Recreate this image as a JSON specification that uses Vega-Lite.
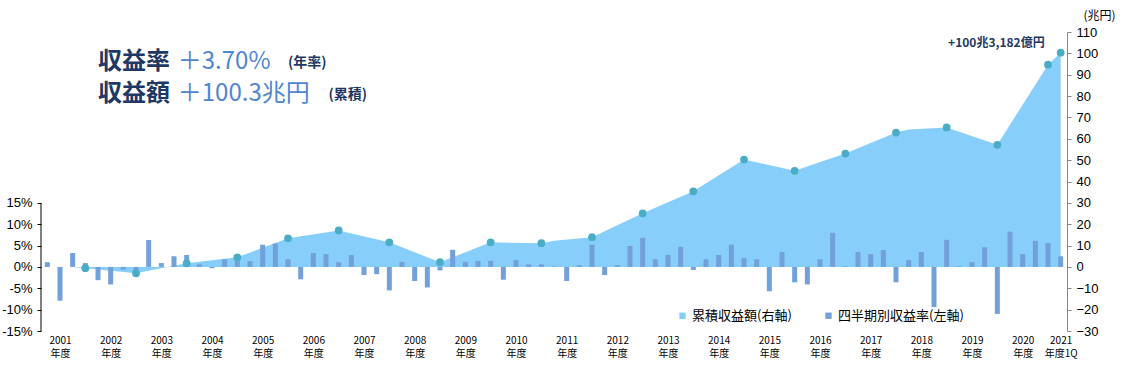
{
  "$schema": "https://vega.github.io/schema/vega-lite/v6.json",
  "width": 1026,
  "height": 299,
  "autosize": {"type": "none"},
  "padding": {"left": 41, "top": 32, "right": 61, "bottom": 44},
  "background": "white",
  "config": {
    "view": {"stroke": null},
    "font": "Noto Sans CJK JP",
    "axis": {"grid": false, "labelColor": "#000", "tickColor": "#000", "domainColor": "#000"}
  },
  "datasets": {
    "quarterly": [
      {"i": 0, "r": 1.1}, {"i": 1, "r": -7.9}, {"i": 2, "r": 3.25}, {"i": 3, "r": 0.9},
      {"i": 4, "r": -3.1}, {"i": 5, "r": -4.1}, {"i": 6, "r": -0.6}, {"i": 7, "r": -1.0},
      {"i": 8, "r": 6.3}, {"i": 9, "r": 0.9}, {"i": 10, "r": 2.5}, {"i": 11, "r": 2.8},
      {"i": 12, "r": 0.6}, {"i": 13, "r": -0.3}, {"i": 14, "r": 1.8}, {"i": 15, "r": 2.0},
      {"i": 16, "r": 1.35}, {"i": 17, "r": 5.2}, {"i": 18, "r": 5.5}, {"i": 19, "r": 1.8},
      {"i": 20, "r": -2.9}, {"i": 21, "r": 3.25}, {"i": 22, "r": 3.0}, {"i": 23, "r": 1.1},
      {"i": 24, "r": 2.8}, {"i": 25, "r": -1.9}, {"i": 26, "r": -1.7}, {"i": 27, "r": -5.5},
      {"i": 28, "r": 1.2}, {"i": 29, "r": -3.3}, {"i": 30, "r": -4.8}, {"i": 31, "r": -0.8},
      {"i": 32, "r": 4.0}, {"i": 33, "r": 1.2}, {"i": 34, "r": 1.4}, {"i": 35, "r": 1.4},
      {"i": 36, "r": -3.0}, {"i": 37, "r": 1.6}, {"i": 38, "r": 0.6}, {"i": 39, "r": 0.6},
      {"i": 40, "r": 0.15}, {"i": 41, "r": -3.3}, {"i": 42, "r": 0.4}, {"i": 43, "r": 5.2},
      {"i": 44, "r": -1.9}, {"i": 45, "r": 0.4}, {"i": 46, "r": 4.9}, {"i": 47, "r": 6.8},
      {"i": 48, "r": 1.8}, {"i": 49, "r": 2.8}, {"i": 50, "r": 4.7}, {"i": 51, "r": -0.7},
      {"i": 52, "r": 1.8}, {"i": 53, "r": 2.8}, {"i": 54, "r": 5.2}, {"i": 55, "r": 2.1},
      {"i": 56, "r": 1.8}, {"i": 57, "r": -5.7}, {"i": 58, "r": 3.5}, {"i": 59, "r": -3.6},
      {"i": 60, "r": -4.1}, {"i": 61, "r": 1.8}, {"i": 62, "r": 8.0}, {"i": 63, "r": 0.15},
      {"i": 64, "r": 3.5}, {"i": 65, "r": 3.0}, {"i": 66, "r": 3.95}, {"i": 67, "r": -3.6},
      {"i": 68, "r": 1.6}, {"i": 69, "r": 3.5}, {"i": 70, "r": -9.4}, {"i": 71, "r": 6.35},
      {"i": 72, "r": 0.15}, {"i": 73, "r": 1.1}, {"i": 74, "r": 4.6}, {"i": 75, "r": -11.0},
      {"i": 76, "r": 8.25}, {"i": 77, "r": 3.0}, {"i": 78, "r": 6.1}, {"i": 79, "r": 5.6},
      {"i": 80, "r": 2.5}
    ],
    "cumulative": [
      {"i": 2, "v": 0, "annual": false},
      {"i": 3, "v": -0.6, "annual": true},
      {"i": 7, "v": -3.0, "annual": true},
      {"i": 11, "v": 1.7, "annual": true},
      {"i": 15, "v": 4.5, "annual": true},
      {"i": 19, "v": 13.4, "annual": true},
      {"i": 23, "v": 17.1, "annual": true},
      {"i": 27, "v": 11.5, "annual": true},
      {"i": 31, "v": 2.2, "annual": true},
      {"i": 35, "v": 11.5, "annual": true},
      {"i": 39, "v": 11.1, "annual": true},
      {"i": 40, "v": 12.2, "annual": false},
      {"i": 43, "v": 13.9, "annual": true},
      {"i": 47, "v": 25.1, "annual": true},
      {"i": 51, "v": 35.4, "annual": true},
      {"i": 55, "v": 50.3, "annual": true},
      {"i": 59, "v": 45.0, "annual": true},
      {"i": 63, "v": 53.1, "annual": true},
      {"i": 67, "v": 62.9, "annual": true},
      {"i": 68, "v": 64.3, "annual": false},
      {"i": 71, "v": 65.3, "annual": true},
      {"i": 75, "v": 57.2, "annual": true},
      {"i": 79, "v": 94.7, "annual": true},
      {"i": 80, "v": 100.3, "annual": true}
    ]
  },
  "resolve": {"scale": {"x": "independent", "y": "independent"}},
  "layer": [
    {
      "data": {"name": "cumulative"},
      "mark": {"type": "area", "interpolate": "linear"},
      "encoding": {
        "x": {
          "field": "i", "type": "quantitative",
          "scale": {"domain": [-0.5, 80.5], "nice": false, "zero": false, "padding": 0},
          "axis": {
            "title": null, "domain": false, "ticks": false, "grid": false,
            "values": [1, 5, 9, 13, 17, 21, 25, 29, 33, 37, 41, 45, 49, 53, 57, 61, 65, 69, 73, 77, 80],
            "labelExpr": "datum.value == 80 ? ['2021', '年度1Q'] : [toString(2001 + floor(datum.value / 4)), '年度']",
            "labelFont": "Noto Sans CJK JP", "labelFontSize": 10, "labelLineHeight": 13.5,
            "labelPadding": 4, "labelBaseline": "top", "labelFlush": false, "labelOverlap": false, "labelBound": false,
            "labelColor": "#000"
          }
        },
        "y": {
          "field": "v", "type": "quantitative",
          "scale": {"domain": [-30, 110], "nice": false, "zero": false},
          "axis": {
            "orient": "right", "title": "(兆円)",
            "values": [-30, -20, -10, 0, 10, 20, 30, 40, 50, 60, 70, 80, 90, 100, 110],
            "domainColor": "#888888", "tickColor": "#888888", "tickSize": 4,
            "labelFont": "Liberation Sans Narrow, Liberation Sans, sans-serif", "labelFontSize": 13, "labelPadding": 5,
            "titleAngle": 0, "titleX": 32, "titleY": -17, "titleAlign": "center", "titleBaseline": "middle",
            "titleFont": "Noto Sans CJK JP", "titleFontSize": 12, "titleFontWeight": "normal", "titleColor": "#000"
          }
        },
        "color": {
          "datum": "累積収益額(右軸)",
          "scale": {"domain": ["累積収益額(右軸)", "四半期別収益率(左軸)"], "range": ["#87CEFA", "#72A0DA"]},
          "legend": {
            "title": null, "orient": "none", "legendX": 635, "legendY": 277, "direction": "horizontal",
            "symbolType": "square", "symbolSize": 40, "symbolStrokeWidth": 0,
            "labelFont": "Noto Sans CJK JP", "labelFontSize": 13, "labelColor": "#000",
            "labelOffset": 3, "columnPadding": 30
          }
        }
      }
    },
    {
      "data": {"name": "quarterly"},
      "mark": {"type": "bar", "width": 5},
      "encoding": {
        "x": {"field": "i", "type": "quantitative", "scale": {"domain": [-0.5, 80.5], "nice": false, "zero": false, "padding": 0}, "axis": null},
        "y": {
          "field": "r", "type": "quantitative",
          "scale": {"domain": [-15, 55], "nice": false},
          "axis": {
            "orient": "left", "title": null, "domain": false,
            "values": [-15, -10, -5, 0, 5, 10, 15],
            "labelExpr": "datum.value + '%'",
            "tickSize": 4, "tickColor": "#000",
            "labelFont": "Liberation Sans Narrow, Liberation Sans, sans-serif", "labelFontSize": 13, "labelPadding": 5
          }
        },
        "color": {
          "datum": "四半期別収益率(左軸)",
          "scale": {"domain": ["累積収益額(右軸)", "四半期別収益率(左軸)"], "range": ["#87CEFA", "#72A0DA"]},
          "legend": {
            "title": null, "orient": "none", "legendX": 635, "legendY": 277, "direction": "horizontal",
            "symbolType": "square", "symbolSize": 40, "symbolStrokeWidth": 0,
            "labelFont": "Noto Sans CJK JP", "labelFontSize": 13, "labelColor": "#000",
            "labelOffset": 3, "columnPadding": 30
          }
        }
      }
    },
    {
      "data": {"values": [{}]},
      "mark": {"type": "rule", "color": "#000", "strokeWidth": 1},
      "encoding": {
        "x": {"datum": -0.5, "type": "quantitative", "scale": {"domain": [-0.5, 80.5], "nice": false, "zero": false, "padding": 0}, "axis": null},
        "y": {"datum": -15, "type": "quantitative", "scale": {"domain": [-15, 55], "nice": false}, "axis": null},
        "y2": {"datum": 15}
      }
    },
    {
      "layer": [
        {
          "data": {"name": "cumulative"},
          "transform": [{"filter": "datum.annual"}],
          "mark": {"type": "circle", "color": "#4BACC6", "opacity": 1, "size": 60},
          "encoding": {
            "x": {"field": "i", "type": "quantitative", "scale": {"domain": [-0.5, 80.5], "nice": false, "zero": false, "padding": 0}, "axis": null},
            "y": {"field": "v", "type": "quantitative", "scale": {"domain": [-30, 110], "nice": false, "zero": false}, "axis": null}
          }
        },
        {
          "data": {"name": "cumulative"},
          "transform": [{"filter": "datum.i == 80"}],
          "mark": {"type": "text", "align": "right", "baseline": "middle", "dx": -16, "dy": -10, "font": "Noto Sans CJK JP", "fontSize": 12, "fontWeight": "bold", "color": "#1F3864", "text": "+100兆3,182億円"},
          "encoding": {
            "x": {"field": "i", "type": "quantitative", "scale": {"domain": [-0.5, 80.5], "nice": false, "zero": false, "padding": 0}, "axis": null},
            "y": {"field": "v", "type": "quantitative", "scale": {"domain": [-30, 110], "nice": false, "zero": false}, "axis": null}
          }
        },
        {
          "data": {"values": [{}]},
          "mark": {"type": "text", "align": "left", "baseline": "middle", "font": "Noto Sans CJK JP", "fontSize": 24, "fontWeight": "bold", "color": "#1F3864", "text": "収益率"},
          "encoding": {
            "x": {"datum": 4.0, "type": "quantitative", "scale": {"domain": [-0.5, 80.5], "nice": false, "zero": false, "padding": 0}, "axis": null},
            "y": {"datum": 95.9, "type": "quantitative", "scale": {"domain": [-30, 110], "nice": false, "zero": false}, "axis": null}
          }
        },
        {
          "data": {"values": [{}]},
          "mark": {"type": "text", "align": "left", "baseline": "middle", "font": "Noto Sans CJK JP", "fontSize": 24, "fontWeight": "normal", "color": "#4F86D0", "text": "＋3.70%"},
          "encoding": {
            "x": {"datum": 10.3, "type": "quantitative", "scale": {"domain": [-0.5, 80.5], "nice": false, "zero": false, "padding": 0}, "axis": null},
            "y": {"datum": 95.9, "type": "quantitative", "scale": {"domain": [-30, 110], "nice": false, "zero": false}, "axis": null}
          }
        },
        {
          "data": {"values": [{}]},
          "mark": {"type": "text", "align": "left", "baseline": "middle", "font": "Noto Sans CJK JP", "fontSize": 14, "fontWeight": "bold", "color": "#1F3864", "text": "(年率)"},
          "encoding": {
            "x": {"datum": 19.0, "type": "quantitative", "scale": {"domain": [-0.5, 80.5], "nice": false, "zero": false, "padding": 0}, "axis": null},
            "y": {"datum": 95.5, "type": "quantitative", "scale": {"domain": [-30, 110], "nice": false, "zero": false}, "axis": null}
          }
        },
        {
          "data": {"values": [{}]},
          "mark": {"type": "text", "align": "left", "baseline": "middle", "font": "Noto Sans CJK JP", "fontSize": 24, "fontWeight": "bold", "color": "#1F3864", "text": "収益額"},
          "encoding": {
            "x": {"datum": 4.0, "type": "quantitative", "scale": {"domain": [-0.5, 80.5], "nice": false, "zero": false, "padding": 0}, "axis": null},
            "y": {"datum": 81.0, "type": "quantitative", "scale": {"domain": [-30, 110], "nice": false, "zero": false}, "axis": null}
          }
        },
        {
          "data": {"values": [{}]},
          "mark": {"type": "text", "align": "left", "baseline": "middle", "font": "Noto Sans CJK JP", "fontSize": 24, "fontWeight": "normal", "color": "#4F86D0", "text": "＋100.3兆円"},
          "encoding": {
            "x": {"datum": 10.3, "type": "quantitative", "scale": {"domain": [-0.5, 80.5], "nice": false, "zero": false, "padding": 0}, "axis": null},
            "y": {"datum": 81.0, "type": "quantitative", "scale": {"domain": [-30, 110], "nice": false, "zero": false}, "axis": null}
          }
        },
        {
          "data": {"values": [{}]},
          "mark": {"type": "text", "align": "left", "baseline": "middle", "font": "Noto Sans CJK JP", "fontSize": 14, "fontWeight": "bold", "color": "#1F3864", "text": "(累積)"},
          "encoding": {
            "x": {"datum": 22.2, "type": "quantitative", "scale": {"domain": [-0.5, 80.5], "nice": false, "zero": false, "padding": 0}, "axis": null},
            "y": {"datum": 80.5, "type": "quantitative", "scale": {"domain": [-30, 110], "nice": false, "zero": false}, "axis": null}
          }
        }
      ]
    }
  ]
}
